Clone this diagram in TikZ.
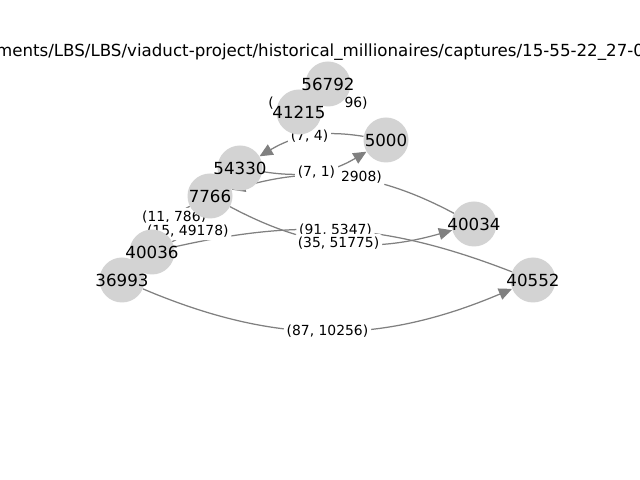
\documentclass[tikz,border=0pt]{standalone}
\usepackage{fontspec}
\setmainfont{DejaVu Sans}
\usepackage{tikz}
\usetikzlibrary{arrows.meta}
\definecolor{node-grey}{HTML}{D3D3D3}
\definecolor{edge-grey}{HTML}{808080}
\pgfdeclarelayer{bg}
\pgfsetlayers{bg,main}
\tikzset{
	vert/.style={circle, fill=node-grey, minimum size=32.4pt, inner sep=0pt},
	vtext/.style={font=\fontsize{12}{14}\selectfont, inner sep=0pt},
	link/.style={draw=edge-grey, line width=0.9pt, -{Triangle[length=9.5pt, width=8.5pt]}},
	elabel/.style={fill=white, rounded corners=2pt, inner sep=2pt, font=\fontsize{10}{12}\selectfont}
}

\begin{document}
\begin{tikzpicture}[x=0.72pt, y=0.72pt]
	\useasboundingbox (0,0) rectangle (640,480);
	\node[vert] at (328,396) (v56792) {};
	\node[vert] at (299,368) (v41215) {};
	\node[vert] at (386,340) (v5000) {};
	\node[vert] at (240,312) (v54330) {};
	\node[vert] at (210,284) (v7766) {};
	\node[vert] at (474,256) (v40034) {};
	\node[vert] at (152,228) (v40036) {};
	\node[vert] at (122,200) (v36993) {};
	\node[vert] at (533,200) (v40552) {};
	
	\begin{pgfonlayer}{bg}
		\draw[link] (v41215) to[bend right=20] coordinate[midway] (m9) (v56792);
		\draw[link] (v5000) to[bend right=20] coordinate[midway] (m1) (v54330);
		\draw[link] (v40034) to[bend right=22] coordinate[midway] (m3) (v7766);
		\draw[link] (v54330) to[bend right=20] coordinate[midway] (m2) (v5000);
		\draw[link, -] (v40552) to[bend right=17] coordinate[pos=0.53] (m5) (v40036);
		\draw[link] (v7766) to[bend right=22] coordinate[midway] (m4) (v40034);
		\draw[link] (v36993) to[bend right=23] coordinate[midway] (m6) (v40552);
		\draw[link] (v7766) to[bend right=17] coordinate[midway] (m7) (v40036);
		\draw[link] (v40036) to[bend right=17] coordinate[midway] (m8) (v7766);
		
		\node[elabel, xshift=-0.5pt] at (m9) (l9) {(\phantom{00, 00000}96)};
		\node[elabel] at (m1) (l1) {(7, 4)};
		\node[elabel] at (m3) (l3) {\phantom{(00, }2908)};
		\node[elabel] at (m2) (l2) {(7, 1)};
		\node[elabel] at (m5) (l5) {(91, 5347)};
		\node[elabel] at (m4) (l4) {(35, 51775)};
		\node[elabel] at (m6) (l6) {(87, 10256)};
		\node[elabel] at (m7) (l7) {(11, 786)};
		\node[elabel] at (m8) (l8) {(15, 49178)};
	\end{pgfonlayer}
	
	\foreach \n in {56792, 41215, 5000, 54330, 7766, 40034, 40036, 36993, 40552}
		\node[vtext] at (v\n) {\n};
	
	\node[vtext] at (320,428) (title) {ments/LBS/LBS/viaduct-project/historical\_millionaires/captures/15-55-22\_27-0};
\end{tikzpicture}
\end{document}
